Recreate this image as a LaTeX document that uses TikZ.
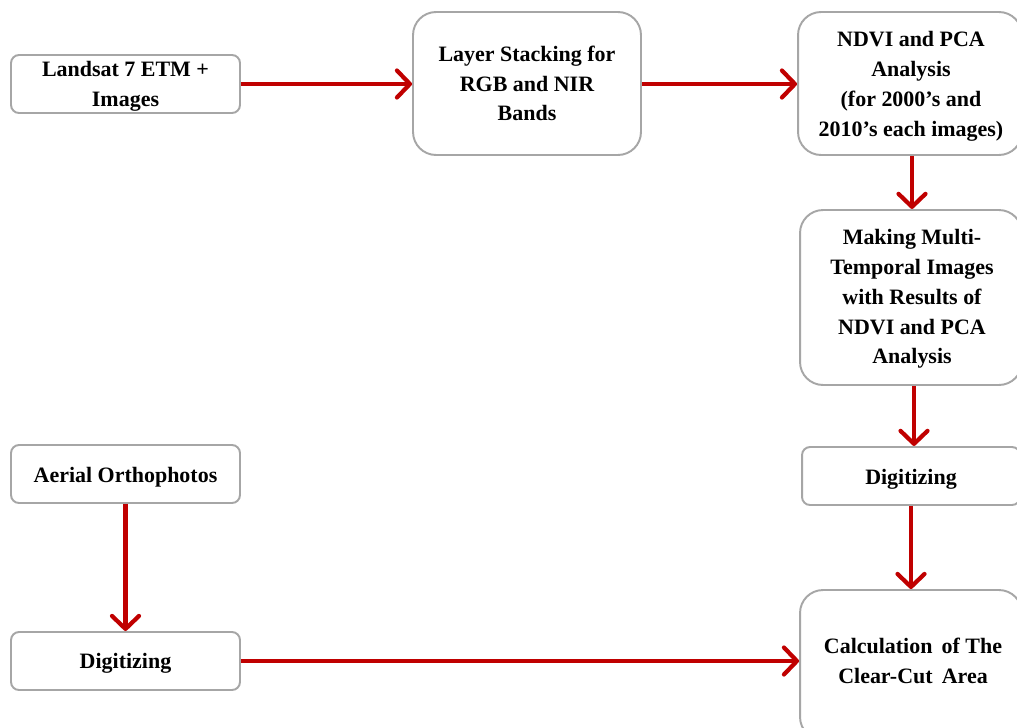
\documentclass[tikz,border=0pt]{standalone}
\usepackage{fontspec}
\setmainfont{Liberation Serif}
\usetikzlibrary{arrows.meta}

\definecolor{arrowred}{HTML}{C00000}
\definecolor{boxgray}{HTML}{A6A6A6}

\begin{document}
\begin{tikzpicture}[x=0.02cm, y=-0.02cm,
    every node/.style={font=\bfseries\fontsize{12.5}{17}\selectfont, align=center, inner sep=0pt},
    smallbox/.style={draw=boxgray, line width=1.1pt, fill=white, rounded corners=0.16cm, minimum height=1.16cm},
    bigbox/.style={draw=boxgray, line width=1.1pt, fill=white, rounded corners=0.46cm},
    flow/.style={draw=arrowred, line width=2.4pt, -{Straight Barb[length=2.6mm, width=5.4mm, line cap=round, line join=round]}}]
    % Frame of the page
    \clip (0,0) rectangle (1017,727);
    % Landsat branch
    \node[smallbox, minimum width=4.58cm] (landsat) at (125.5,84) {};
    \node (landsattext) at (125.5,86) {Landsat 7 ETM +\\Images};
    \node[bigbox, minimum width=4.56cm, minimum height=2.86cm] (stack) at (527,83.5) {Layer Stacking for\\RGB and NIR\\Bands};
    \node[bigbox, minimum width=4.48cm, minimum height=2.86cm] (ndvi) at (910,83.5) {};
    \node (ndvitext) at (911,86.5) {NDVI and PCA\\Analysis\\(for 2000's and\\2010's each images)};
    \node[bigbox, minimum width=4.44cm, minimum height=3.5cm] (multi) at (911,297.5) {};
    \node (multitext) at (912,299) {Making Multi-\\Temporal Images\\with Results of\\NDVI and PCA\\Analysis};
    \node[smallbox, minimum width=4.36cm, text height=12pt] (digright) at (911,476) {Digitizing};
    \node[bigbox, minimum width=4.44cm, minimum height=3.0cm] (calc) at (911,665) {};
    \node (calctext) at (913,661) {Calculation\, of The\\Clear-Cut\, Area};
    % Orthophoto branch
    \node[smallbox, minimum width=4.58cm, text height=12pt] (aerial) at (125.5,474) {Aerial Orthophotos};
    \node[smallbox, minimum width=4.58cm, text height=11pt] (digleft) at (125.5,661) {Digitizing};
    % Arrows
    \draw[flow] (landsat.east) -- (stack.west |- landsat.east);
    \draw[flow] (stack.east |- landsat.east) -- (ndvi.west |- landsat.east);
    \draw[flow] (ndvi.south) ++(2,0) -- ++(0,53);
    \draw[flow] (multi.south) ++(3,0) -- ++(0,60);
    \draw[flow] (digright.south) -- (calc.north);
    \draw[flow] (aerial.south) -- (digleft.north);
    \draw[flow] (digleft.east) -- (calc.west |- digleft.east);
\end{tikzpicture}
\end{document}
